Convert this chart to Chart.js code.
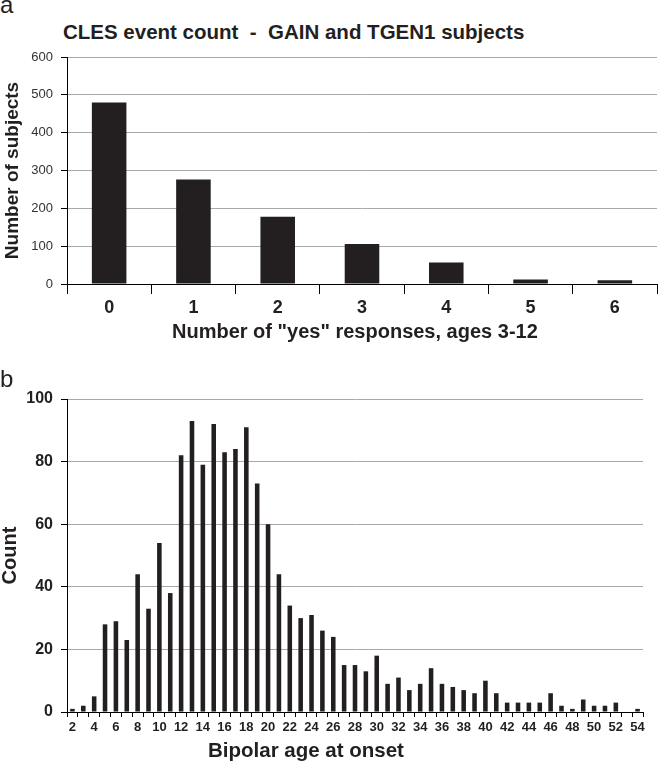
<!DOCTYPE html>
<html>
<head>
<meta charset="utf-8">
<script src="https://cdn.jsdelivr.net/npm/chart.js@4"></script>
<style>
  body { margin: 0; background: #fff; }
  #wrap { position: relative; width: 659px; height: 762px; overflow: hidden;
          font-family: "Liberation Sans", Arial, sans-serif; color: #231f20; }
  .txt { position: absolute; white-space: pre; line-height: 1; }
  canvas { position: absolute; left: 0; }
</style>
</head>
<body>
<div id="wrap">
  <div class="txt" style="left:0px;top:-7px;font-size:24px;">a</div>
  <div class="txt" style="left:63px;top:22px;font-size:20.5px;font-weight:bold;">CLES event count  -  GAIN and TGEN1 subjects</div>
  <canvas id="chartA" width="659" height="370" style="top:0px"></canvas>
  <div class="txt" style="left:172px;top:321px;font-size:20px;font-weight:bold;">Number of "yes" responses, ages 3-12</div>

  <div class="txt" style="left:0px;top:367px;font-size:24px;">b</div>
  <canvas id="chartB" width="659" height="382" style="top:380px"></canvas>
  <div class="txt" style="left:208px;top:740px;font-size:20.5px;font-weight:bold;">Bipolar age at onset</div>
</div>

<script>
// panel a - CLES event count
const yesCounts = ['0', '1', '2', '3', '4', '5', '6'];
const subjects = [480, 276, 178, 106, 57, 12, 10];

// panel b - bipolar age at onset
const onsetAges = ['2', '3', '4', '5', '6', '7', '8', '9', '10', '11', '12', '13', '14', '15',
  '16', '17', '18', '19', '20', '21', '22', '23', '24', '25', '26', '27', '28', '29', '30',
  '31', '32', '33', '34', '35', '36', '37', '38', '39', '40', '41', '42', '43', '44', '45',
  '46', '47', '48', '49', '50', '51', '52', '53', '54'];
const onsetCounts = [1, 2, 5, 28, 29, 23, 44, 33, 54, 38, 82, 93, 79, 92,
  83, 84, 91, 73, 60, 44, 34, 30, 31, 26, 24, 15, 15, 13, 18,
  9, 11, 7, 9, 14, 9, 8, 7, 6, 10, 6, 3, 3, 3, 3,
  6, 2, 1, 4, 2, 2, 3, 0, 1];

const FONT = '"Liberation Sans", Arial, sans-serif';
const INK = '#231f20';
const GRID = '#a8a8a8';

Chart.defaults.font.family = FONT;
Chart.defaults.color = INK;
Chart.defaults.animation = false;

const gridColor = ctx => (ctx.tick && ctx.tick.value === 0) ? '#000' : GRID;

new Chart(document.getElementById('chartA'), {
  type: 'bar',
  data: {
    labels: yesCounts,
    datasets: [{
      data: subjects,
      backgroundColor: INK,
      barPercentage: 0.41,
      categoryPercentage: 1
    }]
  },
  options: {
    responsive: false,
    layout: { padding: { top: 57, right: 2, left: 0, bottom: 46 } },
    plugins: { legend: { display: false }, tooltip: { enabled: false } },
    scales: {
      x: {
        afterFit: s => { s.height = 40; },
        grid: { display: true, drawOnChartArea: false, drawTicks: true, tickLength: 10,
                color: '#000', offset: true },
        border: { display: true, color: '#000', width: 1 },
        ticks: { color: INK, padding: 3, font: { size: 18, weight: 'bold' } }
      },
      y: {
        min: 0, max: 600,
        afterFit: s => { s.width = 67; },
        grid: { color: gridColor, lineWidth: 1, tickLength: 6, tickColor: '#000' },
        border: { display: true, color: '#000', width: 1 },
        ticks: { stepSize: 100, color: '#333', padding: 8, font: { size: 13 } },
        title: {
          display: true, text: 'Number of subjects', color: INK,
          font: { size: 19, weight: 'bold', lineHeight: 1.2 },
          padding: { top: 1, bottom: 0 }
        }
      }
    }
  }
});

new Chart(document.getElementById('chartB'), {
  type: 'bar',
  data: {
    labels: onsetAges,
    datasets: [{
      data: onsetCounts,
      backgroundColor: INK,
      barPercentage: 0.42,
      categoryPercentage: 1
    }]
  },
  options: {
    responsive: false,
    layout: { padding: { top: 19, right: 16, left: 0, bottom: 20 } },
    plugins: { legend: { display: false }, tooltip: { enabled: false } },
    scales: {
      x: {
        afterFit: s => { s.height = 30; },
        grid: { display: true, drawOnChartArea: false, drawTicks: true, tickLength: 5,
                color: '#000', offset: true },
        border: { display: true, color: '#000', width: 1 },
        ticks: {
          autoSkip: false, maxRotation: 0, color: INK, padding: 3,
          font: { size: 13, weight: 'bold' },
          callback: function (value) {
            const lab = this.getLabelForValue(value);
            return Number(lab) % 2 === 0 ? lab : '';
          }
        }
      },
      y: {
        min: 0, max: 100,
        afterFit: s => { s.width = 67; },
        grid: { color: gridColor, lineWidth: 1, tickLength: 6, tickColor: '#000' },
        border: { display: true, color: '#000', width: 1 },
        ticks: { stepSize: 20, color: INK, padding: 8, font: { size: 16, weight: 'bold' } },
        title: {
          display: true, text: 'Count', color: INK,
          font: { size: 20, weight: 'bold', lineHeight: 1.0 },
          padding: { top: 0, bottom: 0 }
        }
      }
    }
  }
});
</script>
</body>
</html>
